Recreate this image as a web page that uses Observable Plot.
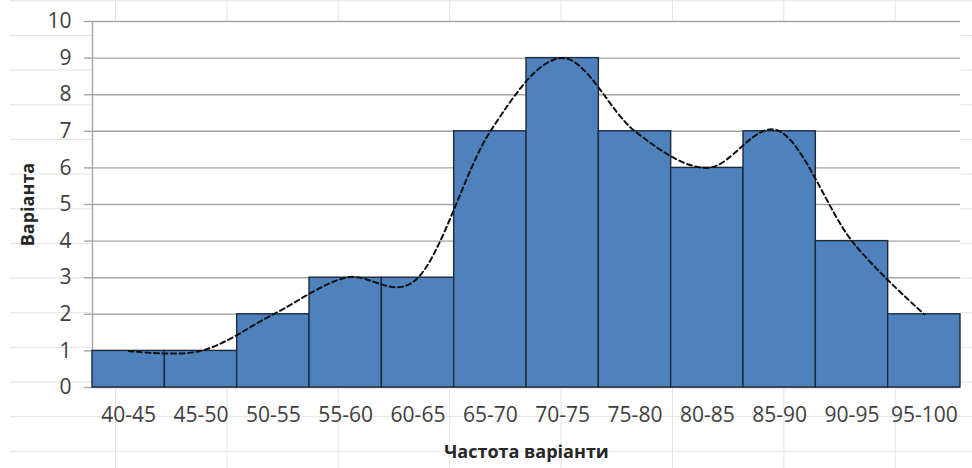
<!DOCTYPE html>
<html>
<head>
<meta charset="utf-8">
<script src="https://cdn.jsdelivr.net/npm/d3@7"></script>
<script src="https://cdn.jsdelivr.net/npm/@observablehq/plot@0.6"></script>
<style>
  body { margin: 0; background: #fff; }
  #sheet {
    position: relative;
    width: 972px;
    height: 468px;
    overflow: hidden;
    background: #fff;
  }
  /* worksheet cell grid behind the chart */
  #cells {
    position: absolute;
    left: 10px; top: 0; right: 0; bottom: 0;
    background-image:
      linear-gradient(to right, #e3e3e3 1px, transparent 1px),
      linear-gradient(to bottom, #e3e3e3 1px, transparent 1px);
    background-size: 111.4px 34.67px;
    background-position: 105px 0.3px;
  }
  #chart { position: absolute; left: 0; top: 0; }
</style>
</head>
<body>
<div id="sheet">
  <div id="cells"></div>
  <div id="chart"></div>
</div>
<script>
// Score intervals and how many values fall in each
const intervals = ["40-45", "45-50", "50-55", "55-60", "60-65", "65-70",
                   "70-75", "75-80", "80-85", "85-90", "90-95", "95-100"];
const counts = [1, 1, 2, 3, 3, 7, 9, 7, 6, 7, 4, 2];
const yTicks = [0, 1, 2, 3, 4, 5, 6, 7, 8, 9, 10];
const xTitle = "Частота варіанти";
const yTitle = "Варіанта";

const rows = intervals.map((label, i) => {
  const [lo, hi] = label.split("-").map(Number);
  return {label, lo, hi, mid: (lo + hi) / 2, count: counts[i]};
});
const labelAt = new Map(rows.map(d => [d.mid, d.label]));

const font = "'Open Sans', 'DejaVu Sans', sans-serif";

const chart = Plot.plot({
  width: 972,
  height: 468,
  marginLeft: 92,
  marginRight: 12,
  marginTop: 21,
  marginBottom: 81,
  style: {background: "transparent", fontFamily: font, fontSize: "21px", color: "#404040", overflow: "visible"},
  x: {
    type: "linear",
    domain: [rows[0].lo, rows[rows.length - 1].hi],
    ticks: rows.map(d => d.mid),
    tickFormat: v => labelAt.get(v),
    tickSize: 0,
    tickPadding: 20,
    label: null
  },
  y: {
    domain: [0, 10],
    ticks: yTicks,
    tickSize: 8,
    tickPadding: 13,
    label: null
  },
  marks: [
    Plot.frame({fill: "white", stroke: "none"}),
    Plot.ruleY(yTicks, {stroke: "#a6a6a6", strokeWidth: 1.4}),
    Plot.ruleX([rows[0].lo], {y1: 0, y2: 10, stroke: "#a6a6a6", strokeWidth: 1.4}),
    Plot.rectY(rows, {x1: "lo", x2: "hi", y: "count", fill: "#4f81bd", stroke: "#1d2a3c", strokeWidth: 1.4}),
    Plot.line(rows, {x: "mid", y: "count", curve: "cardinal", stroke: "#111", strokeWidth: 2, strokeDasharray: "5,3.5"}),
    Plot.text([yTitle], {frameAnchor: "left", textAnchor: "middle", lineAnchor: "middle", rotate: -90, dx: -64, fontWeight: "bold", fontSize: 18, fill: "#262626"}),
    Plot.text([xTitle], {frameAnchor: "bottom", lineAnchor: "middle", dy: 65, fontWeight: "bold", fontSize: 18, fill: "#262626"})
  ]
});

d3.select(chart).selectAll('[aria-label="y-axis tick"]').attr("stroke", "#a6a6a6").attr("stroke-width", 1.4);
document.getElementById("chart").appendChild(chart);
</script>
</body>
</html>
